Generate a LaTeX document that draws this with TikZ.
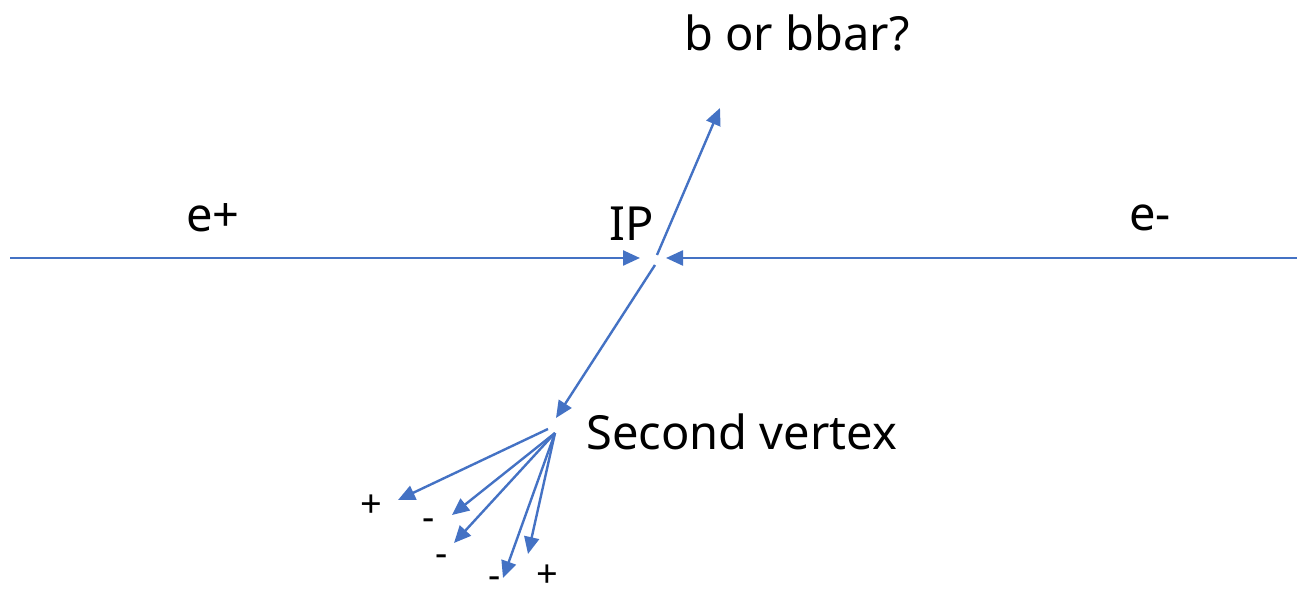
\documentclass[tikz,border=0pt]{standalone}
\usepackage{fontspec}
\setmainfont{Noto Sans}
\usetikzlibrary{arrows.meta}
\definecolor{lineblue}{HTML}{4472C4}
\tikzset{
  beam/.style={draw=lineblue, line width=1.2pt, -{Triangle[length=8.5pt,width=7.5pt]}},
  biglabel/.style={font=\fontsize{23.5}{28}\selectfont, inner sep=0pt},
  smalllabel/.style={font=\fontsize{19}{22}\selectfont, inner sep=0pt},
}
\begin{document}
\begin{tikzpicture}[x=0.5pt,y=-0.5pt]
\useasboundingbox (0,0) rectangle (1297,597);
% coordinates
\coordinate (epstart) at (10,258);
\coordinate (eptip) at (640,258);
\coordinate (emstart) at (1297,258);
\coordinate (emtip) at (666,258);
\coordinate (bstart) at (657,255);
\coordinate (btip) at (720,108);
\coordinate (dstart) at (655,265);
\coordinate (dtip) at (556,418);
\coordinate (fanA) at (548,429);
\coordinate (fanB) at (555,433);
\coordinate (t1) at (398,500);
\coordinate (t2) at (452,515);
\coordinate (t3) at (454,543);
\coordinate (t4) at (503,578);
\coordinate (t5) at (528,554);
% connectors
\draw[beam] (epstart) -- (eptip);
\draw[beam] (emstart) -- (emtip);
\draw[beam] (bstart) -- (btip);
\draw[beam] (dstart) -- (dtip);
\draw[beam] (fanA) -- (t1);
\draw[beam] (fanB) -- (t2);
\draw[beam] (fanB) -- (t3);
\draw[beam] (fanB) -- (t4);
\draw[beam] (fanB) -- (t5);
% labels
\node[biglabel] (lep) at (213,218) {e+};
\node[biglabel] (lip) at (632,224) {IP};
\node[biglabel] (lem) at (1150,218) {e-};
\node[biglabel] (lb) at (797,33) {b or bbar?};
\node[biglabel, anchor=west] (lsv) at (586,432) {Second vertex};
\node[smalllabel] (s1) at (371,506) {+};
\node[smalllabel] (s2) at (429,525) {-};
\node[smalllabel] (s3) at (442,561) {-};
\node[smalllabel] (s4) at (495,583) {-};
\node[smalllabel] (s5) at (547,576) {+};
\end{tikzpicture}
\end{document}
